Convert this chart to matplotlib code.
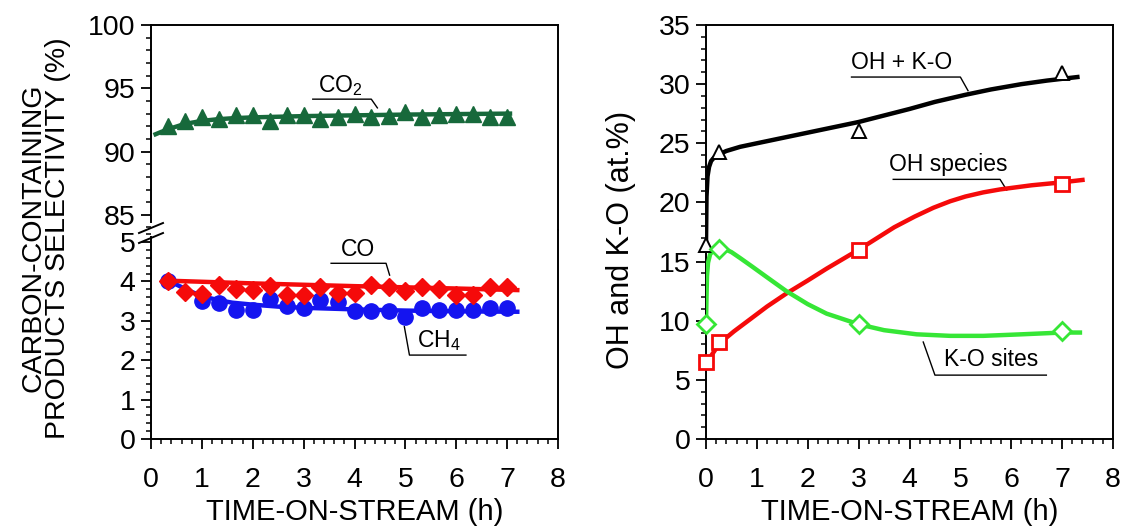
import numpy as np
import matplotlib
matplotlib.use("Agg")
import matplotlib.pyplot as plt
from matplotlib.lines import Line2D
from matplotlib.ticker import MultipleLocator

plt.rcParams['font.family'] = ['Liberation Sans', 'DejaVu Sans']

# ---- left panel: selectivity vs time-on-stream ----
t_sel = [0.33, 0.67, 1.0, 1.33, 1.67, 2.0, 2.33, 2.67, 3.0, 3.33, 3.67,
         4.0, 4.33, 4.67, 5.0, 5.33, 5.67, 6.0, 6.33, 6.67, 7.0]
co2_sel = [92.05, 92.45, 92.7, 92.6, 92.85, 92.9, 92.45, 92.85, 92.9, 92.6, 92.7,
           93.0, 92.75, 92.8, 93.1, 92.75, 92.85, 93.0, 93.0, 92.75, 92.75]
co_sel = [4.0, 3.72, 3.67, 3.91, 3.82, 3.78, 3.88, 3.66, 3.66, 3.87, 3.7,
          3.7, 3.91, 3.87, 3.75, 3.87, 3.8, 3.66, 3.66, 3.87, 3.87]
t_ch4 = [0.33, 1.0, 1.33, 1.67, 2.0, 2.33, 2.67, 3.0, 3.33, 3.67,
         4.0, 4.33, 4.67, 5.0, 5.33, 5.67, 6.0, 6.33, 6.67, 7.0]
ch4_sel = [4.0, 3.5, 3.45, 3.27, 3.27, 3.55, 3.38, 3.33, 3.53, 3.48,
           3.25, 3.25, 3.25, 3.1, 3.32, 3.27, 3.27, 3.27, 3.32, 3.32]

# fitted curves
t_co2_fit = [0.05, 0.2, 0.4, 0.6, 0.8, 1.0, 1.3, 1.6, 2.0, 2.5, 3.0, 4.0, 5.0, 6.0, 7.1]
co2_fit = [91.3, 91.55, 91.85, 92.1, 92.28, 92.42, 92.55, 92.63, 92.7, 92.75,
           92.8, 92.86, 92.92, 92.96, 93.0]
t_co_fit = [0.3, 2.0, 4.0, 6.0, 7.2]
co_fit = [4.02, 3.95, 3.88, 3.82, 3.78]
t_ch4_fit = [0.3, 0.5, 0.75, 1.0, 1.3, 1.6, 2.0, 2.5, 3.0, 4.0, 5.0, 6.0, 7.2]
ch4_fit = [4.05, 3.92, 3.76, 3.63, 3.53, 3.46, 3.41, 3.36, 3.33, 3.29, 3.26, 3.24, 3.23]

# ---- right panel: surface species ----
t_xps = [0.0, 0.25, 3.0, 7.0]
oh_ko = [16.4, 24.3, 26.0, 30.9]
oh_species = [6.5, 8.2, 16.0, 21.6]
ko_sites = [9.7, 16.1, 9.7, 9.1]

t_ohko_fit = [0.0, 0.01, 0.03, 0.06, 0.1, 0.16, 0.25, 0.4, 0.67, 1.0, 2.0, 3.0, 3.5,
              4.0, 4.5, 5.1, 5.6, 6.2, 6.7, 7.3]
ohko_fit = [16.5, 20.5, 22.2, 23.0, 23.5, 23.8, 24.05, 24.35, 24.7, 25.0, 25.9, 26.8, 27.35,
            27.9, 28.5, 29.1, 29.55, 30.0, 30.3, 30.6]
t_oh_fit = [0.0, 0.27, 0.55, 0.86, 1.2, 1.58, 2.0, 2.37, 3.0, 3.7, 4.1, 4.47, 4.8, 5.1,
            5.45, 5.78, 6.4, 7.0, 7.4]
oh_fit = [6.4, 8.1, 9.1, 10.1, 11.2, 12.3, 13.4, 14.4, 16.0, 17.9, 18.8, 19.55, 20.1, 20.5,
          20.85, 21.1, 21.45, 21.7, 21.9]
t_ko_fit = [0.0, 0.01, 0.02, 0.04, 0.08, 0.18, 0.3, 0.5, 0.67, 0.9, 1.19, 1.58, 2.0, 2.37,
            3.0, 3.5, 4.14, 4.8, 5.45, 6.2, 7.0, 7.35]
ko_fit = [9.7, 12.0, 13.8, 14.9, 15.6, 16.2, 16.2, 15.8, 15.3, 14.6, 13.7, 12.5, 11.4, 10.6,
          9.7, 9.2, 8.85, 8.72, 8.72, 8.85, 9.0, 9.0]

W, H = 1123, 526
fig = plt.figure(figsize=(W / 100, H / 100), dpi=100)


def px_rect(x0, x1, ytop, ybot):
    return [x0 / W, 1 - ybot / H, (x1 - x0) / W, (ybot - ytop) / H]


green_dark = '#17693b'
red = '#f50a0a'
blue = '#1414f0'
lime = '#36e636'
tick_fs = 20.5
ann_fs = 16.5

ax_top = fig.add_axes(px_rect(151, 558, 25, 230))
ax_bot = fig.add_axes(px_rect(151, 558, 230, 439))
ax_r = fig.add_axes(px_rect(706, 1113, 25, 439))

for ax in (ax_top, ax_bot, ax_r):
    for s in ax.spines.values():
        s.set_linewidth(1.4)
    ax.set_xlim(0, 8)
    ax.xaxis.set_major_locator(MultipleLocator(1))
    ax.xaxis.set_minor_locator(MultipleLocator(0.2))
    ax.tick_params(which='major', direction='out', length=7, width=1.3,
                   labelsize=tick_fs, top=False, right=False)
    ax.tick_params(which='minor', direction='out', length=3.5, width=1.1,
                   top=False, right=False)
    ax.tick_params(axis='x', pad=13)
    ax.tick_params(axis='y', pad=4)

# upper part of broken axis
ax_top.set_ylim(83.8, 100)
ax_top.set_yticks([85, 90, 95, 100])
ax_top.yaxis.set_minor_locator(MultipleLocator(1))
ax_top.spines['bottom'].set_visible(False)
ax_top.spines['left'].set_bounds(84.4, 100)
ax_top.tick_params(axis='x', which='both', bottom=False, labelbottom=False)

# lower part
ax_bot.set_ylim(0, 5.305)
ax_bot.set_yticks([0, 1, 2, 3, 4, 5])
ax_bot.yaxis.set_minor_locator(MultipleLocator(0.2))
ax_bot.spines['top'].set_visible(False)
ax_bot.spines['left'].set_bounds(0, 5.127)

ax_top.plot(t_co2_fit, co2_fit, color=green_dark, lw=3.2, zorder=3, solid_capstyle='butt')
ax_top.plot(t_sel, co2_sel, ls='none', marker='^', ms=12, color=green_dark, zorder=4)

ax_bot.plot(t_ch4_fit, ch4_fit, color=blue, lw=3.2, zorder=3)
ax_bot.plot(t_ch4, ch4_sel, ls='none', marker='o', ms=11, color=blue, zorder=4)
ax_bot.plot(t_co_fit, co_fit, color=red, lw=3.2, zorder=3)
ax_bot.plot(t_sel, co_sel, ls='none', marker='D', ms=9.5, color=red, zorder=4)

# break marks on left spine
for yb in (228, 238):
    fig.add_artist(Line2D([139 / W, 163 / W], [1 - (yb + 5) / H, 1 - (yb - 5) / H],
                          color='black', lw=1.4))

# annotations left
ax_top.text(3.72, 95.25, 'CO$_\\mathregular{2}$', fontsize=ann_fs, ha='center', va='center')
ax_top.plot([3.18, 4.33, 4.45], [94.14, 94.14, 93.45], color='black', lw=1.0)
ax_bot.text(4.07, 4.8, 'CO', fontsize=ann_fs, ha='center', va='center')
ax_bot.plot([3.54, 4.62, 4.69], [4.46, 4.46, 4.16], color='black', lw=1.0)
ax_bot.text(5.65, 2.5, 'CH$_\\mathregular{4}$', fontsize=ann_fs, ha='center', va='center')
ax_bot.plot([4.98, 5.08, 6.19], [2.85, 2.13, 2.13], color='black', lw=1.0)

# right panel
ax_r.set_ylim(0, 35)
ax_r.yaxis.set_major_locator(MultipleLocator(5))
ax_r.yaxis.set_minor_locator(MultipleLocator(1))

ax_r.plot(t_ohko_fit, ohko_fit, color='black', lw=3.2, zorder=3)
ax_r.plot(t_oh_fit, oh_fit, color=red, lw=3.2, zorder=3)
ax_r.plot(t_ko_fit, ko_fit, color=lime, lw=3.2, zorder=3)
ax_r.plot(t_xps, oh_ko, ls='none', marker='^', ms=10, mfc='white', mec='black', mew=1.4,
          zorder=4, clip_on=False)
ax_r.plot(t_xps, oh_species, ls='none', marker='s', ms=10, mfc='white', mec=red, mew=2.0,
          zorder=4, clip_on=False)
ax_r.plot(t_xps, ko_sites, ls='none', marker='D', ms=9.5, mfc='white', mec=lime, mew=2.0,
          zorder=4, clip_on=False)

ax_r.text(3.85, 31.8, 'OH + K-O', fontsize=ann_fs, ha='center', va='center')
ax_r.plot([2.86, 5.0, 5.15], [30.6, 30.6, 29.45], color='black', lw=1.0)
ax_r.text(4.76, 23.2, 'OH species', fontsize=ann_fs, ha='center', va='center')
ax_r.plot([3.68, 5.78, 5.91], [21.95, 21.95, 21.05], color='black', lw=1.0)
ax_r.text(5.6, 6.7, 'K-O sites', fontsize=ann_fs, ha='center', va='center')
ax_r.plot([4.27, 4.5, 6.69], [8.2, 5.4, 5.4], color='black', lw=1.0)

# axis titles
fig.text(46 / W, 1 - 238 / H, 'CARBON-CONTAINING\nPRODUCTS SELECTIVITY (%)', rotation=90,
         ha='center', va='center', fontsize=20.5, linespacing=0.95)
fig.text(621 / W, 1 - 240 / H, 'OH and K-O (at.%)', rotation=90,
         ha='center', va='center', fontsize=22)
fig.text(355 / W, 1 - 512 / H, 'TIME-ON-STREAM (h)', ha='center', va='center', fontsize=21)
fig.text(910 / W, 1 - 512 / H, 'TIME-ON-STREAM (h)', ha='center', va='center', fontsize=21)

fig.savefig('out.png', dpi=100)
